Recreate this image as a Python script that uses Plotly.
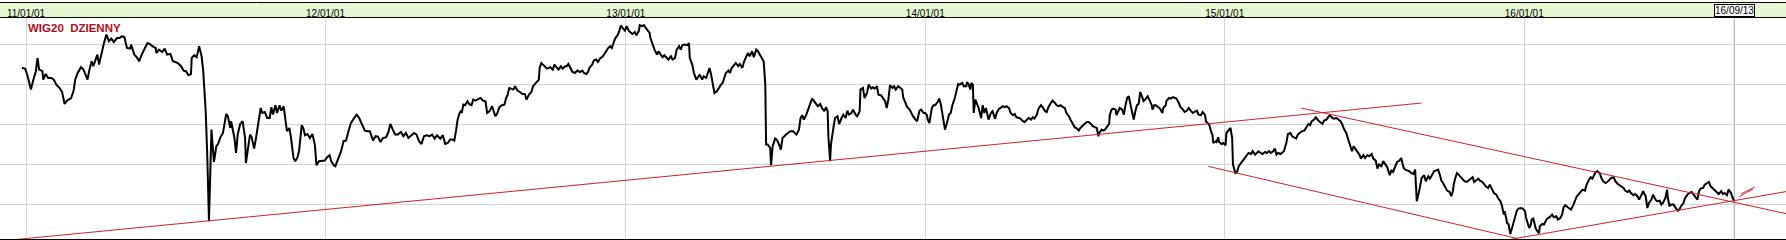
import pandas as pd
import plotly.graph_objects as go

# ---------------- data ----------------
base_date = "2011-01-01"  # day_offsets are calendar days since this date

day_offsets = [
    -5, -1, 2, 6, 9, 12, 14, 16, 20, 21, 24, 27, 31, 34, 37, 41, 44, 47, 50, 55, 58, 60, 63, 67, 70, 73, 75, 77, 80, 82,
    85, 87, 89, 92, 95, 98, 101, 104, 107, 111, 114, 117, 120, 123, 127, 128, 132, 135, 138, 141, 145, 148, 151, 154,
    158, 159, 162, 166, 169, 172, 176, 179, 182, 185, 189, 192, 195, 198, 201, 202, 205, 208, 211, 214, 216, 219, 221,
    223, 226, 229, 232, 234, 237, 240, 244, 246, 249, 250, 254, 256, 258, 261, 264, 267, 268, 271, 273, 275, 278, 280,
    283, 286, 288, 291, 294, 297, 299, 301, 304, 306, 309, 311, 314, 316, 318, 321, 323, 326, 328, 331, 333, 336, 338,
    340, 343, 346, 349, 352, 354, 357, 361, 364, 367, 370, 372, 375, 377, 380, 384, 387, 390, 393, 396, 400, 403, 406,
    410, 413, 416, 419, 423, 426, 429, 432, 435, 439, 442, 444, 447, 450, 453, 457, 460, 463, 466, 470, 473, 476, 479,
    482, 485, 488, 492, 495, 498, 501, 505, 508, 511, 514, 517, 520, 522, 524,
    526, 528, 530, 531, 533, 535, 538, 540, 543, 545, 548, 552, 554, 557, 560, 562, 565, 568, 570, 572, 574, 577, 580,
    583, 585, 587, 589, 592, 594, 596, 599, 602, 605, 608, 610, 613, 616, 618, 621, 623, 625, 626, 628, 630, 633, 635,
    639, 642, 644, 647, 649, 652, 654, 657, 659, 661, 664, 666, 669, 672, 675, 678, 680, 683, 685, 687, 690, 692, 695,
    697, 700, 702, 704, 707, 709, 712, 714, 716, 718, 721, 723, 725, 727, 730, 732, 735, 737, 739, 742, 744, 747, 748,
    751, 753, 756, 758, 760, 761, 764, 766, 769, 771, 774, 776, 778, 781, 783, 786, 788, 791, 793, 796, 798, 800, 803,
    806, 808, 809, 812, 814, 817, 819, 821, 824, 826, 829, 831, 833, 835, 837, 839, 842, 844, 847, 849, 851, 853, 856,
    858, 860, 863, 865, 868, 870, 873, 875, 878, 880, 882, 885, 887, 890, 892, 895, 897, 899, 901, 902, 904, 906, 907,
    908, 910, 913, 915, 917, 920, 922, 925, 927, 930, 932, 935, 937, 939, 942, 944, 946, 948, 951, 953, 956, 958, 960,
    963, 965, 968, 970, 973, 975, 977, 978, 980, 981, 984, 986, 989, 991, 994, 996, 999, 1001, 1003, 1006, 1008, 1011,
    1013, 1016, 1017, 1020, 1022, 1025, 1027, 1030, 1032, 1034, 1037, 1039, 1042, 1044, 1047, 1049, 1051, 1053, 1056,
    1058, 1060, 1063, 1065, 1068, 1069, 1072, 1074, 1077, 1079, 1081, 1084, 1086, 1089, 1091, 1094, 1096, 1098, 1099,
    1101, 1103, 1104, 1106, 1108, 1111, 1113, 1115, 1117, 1119, 1120, 1122, 1125, 1127, 1129, 1132, 1134, 1136, 1138,
    1141, 1143, 1146, 1147, 1149, 1151, 1152, 1154, 1155, 1157, 1159, 1161, 1163, 1164, 1166, 1168, 1170, 1172, 1173,
    1176, 1178, 1181, 1183, 1186, 1188, 1190, 1193, 1195, 1198, 1200, 1203, 1205, 1207, 1210, 1212, 1215, 1217, 1220,
    1222, 1225, 1227, 1229, 1232, 1234, 1237, 1239, 1242, 1244, 1246, 1249, 1251, 1254, 1256, 1259, 1261, 1264, 1266,
    1268, 1271, 1273, 1276, 1278, 1281, 1283, 1285, 1288, 1290, 1293, 1295, 1298, 1300, 1303, 1305, 1307, 1308, 1311,
    1313, 1315, 1318, 1320, 1321, 1323, 1325, 1328, 1329, 1331, 1333, 1336, 1338, 1340, 1342, 1344, 1346, 1348, 1350,
    1352, 1354, 1356, 1358, 1360, 1362, 1364, 1367, 1369, 1372, 1373, 1375, 1377, 1380, 1382, 1385, 1386, 1389, 1390,
    1393, 1395, 1398, 1400, 1402, 1405, 1407, 1410, 1412, 1415, 1417, 1420, 1422, 1424, 1427, 1429, 1432, 1434, 1437,
    1438, 1441, 1442, 1444, 1446, 1447, 1450, 1451, 1453, 1454, 1457, 1459, 1462, 1463, 1466, 1468, 1470, 1471, 1474,
    1476, 1478, 1480, 1483, 1485, 1488, 1490, 1493, 1495, 1498, 1500, 1502, 1505, 1507, 1510, 1512, 1515, 1517, 1520,
    1522, 1524, 1526, 1529, 1531, 1533, 1536, 1538, 1541, 1543, 1545, 1548, 1550, 1553, 1555, 1558, 1560, 1563, 1565,
    1567, 1570, 1572, 1575, 1577, 1580, 1582, 1585, 1587, 1589, 1592, 1594, 1597, 1599, 1602, 1604, 1606, 1609, 1611,
    1614, 1616, 1618, 1620, 1623, 1625, 1627, 1630, 1632, 1635, 1637, 1640, 1642, 1645, 1647, 1649, 1652, 1654, 1657,
    1659, 1662, 1664, 1666, 1669, 1671, 1674, 1676, 1679, 1681, 1684, 1686, 1688, 1691, 1693, 1695, 1697, 1699, 1701,
    1704, 1706, 1709, 1711, 1714, 1716, 1718, 1721, 1723, 1725, 1727, 1730, 1732, 1735, 1737, 1739, 1740, 1742, 1744,
    1746, 1749, 1751, 1753, 1756, 1758, 1761, 1763, 1765, 1767, 1770, 1772, 1775, 1777, 1779, 1782, 1784, 1787, 1789,
    1792, 1794, 1797, 1799, 1801, 1802, 1804, 1805, 1807, 1809, 1810, 1812, 1814, 1815, 1817, 1819, 1822, 1824, 1827,
    1828, 1830, 1832, 1834, 1835, 1837, 1839, 1840, 1842, 1844, 1845, 1848, 1850, 1853, 1855, 1857, 1860, 1862, 1865,
    1867, 1870, 1872, 1874, 1876, 1879, 1881, 1883, 1886, 1888, 1890, 1892, 1895, 1897, 1900, 1902, 1905, 1907, 1909,
    1911, 1913, 1915, 1918, 1920, 1922, 1925, 1927, 1930, 1932, 1935, 1937, 1940, 1942, 1944, 1947, 1949, 1952, 1954,
    1956, 1959, 1961, 1964, 1966, 1969, 1971, 1974, 1976, 1978, 1981, 1983, 1986, 1988, 1991, 1993, 1995, 1998, 2000,
    2001, 2003, 2005, 2008, 2010, 2013, 2015, 2017, 2020, 2022, 2025, 2027, 2030, 2032, 2034, 2037, 2039, 2041, 2044,
    2046, 2049, 2051, 2053, 2056, 2058, 2061, 2063, 2066, 2068, 2070, 2073, 2075, 2078, 2080, 2082,
]

close_values = [
    2680, 2677, 2639, 2572, 2622, 2664, 2730, 2672, 2664, 2622, 2650, 2630, 2630, 2620, 2597, 2580, 2560, 2500, 2517,
    2530, 2567, 2622, 2655, 2684, 2672, 2639, 2622, 2667, 2714, 2689, 2730, 2747, 2697, 2755, 2805, 2847, 2814, 2827,
    2810, 2830, 2830, 2839, 2834, 2780, 2777, 2797, 2747, 2734, 2714, 2747, 2780, 2805, 2800, 2789, 2780, 2755, 2772,
    2760, 2777, 2747, 2750, 2714, 2710, 2705, 2689, 2667, 2664, 2644, 2650, 2730, 2744, 2734, 2789, 2739, 2664, 2464,
    2230, 1914, 2372, 2210, 2289, 2300, 2334, 2355, 2450, 2439, 2380, 2414, 2330, 2255, 2347, 2400, 2414, 2330, 2205,
    2280, 2347, 2334, 2277, 2322, 2414, 2480, 2455, 2460, 2430, 2430, 2484, 2447, 2494, 2455, 2494, 2467, 2489, 2410,
    2364, 2380, 2330, 2230, 2214, 2234, 2272, 2394, 2380, 2344, 2350, 2330, 2350, 2297, 2194, 2214, 2217, 2217, 2234,
    2244, 2214, 2194, 2189, 2222, 2264, 2314, 2317, 2364, 2405, 2430, 2447, 2430, 2389, 2367, 2364, 2364, 2317, 2339,
    2337, 2310, 2330, 2334, 2364, 2400, 2372, 2347, 2347, 2360, 2339, 2355, 2330, 2344, 2355, 2347, 2314, 2300, 2339,
    2344, 2339, 2347, 2327, 2344, 2327, 2344, 2300, 2305, 2322, 2322, 2317, 2364,
    2422, 2450, 2467, 2455, 2497, 2494, 2514, 2500, 2494, 2522, 2517, 2527, 2530, 2517, 2514, 2455, 2464, 2489, 2464,
    2439, 2450, 2484, 2494, 2497, 2527, 2547, 2580, 2577, 2572, 2589, 2567, 2560, 2550, 2550, 2522, 2547, 2560, 2589,
    2605, 2617, 2622, 2680, 2705, 2697, 2684, 2677, 2684, 2672, 2697, 2680, 2672, 2689, 2677, 2689, 2689, 2700, 2672,
    2660, 2655, 2667, 2660, 2667, 2655, 2650, 2660, 2684, 2697, 2717, 2722, 2710, 2730, 2734, 2744, 2764, 2777, 2789,
    2780, 2805, 2827, 2844, 2864, 2894, 2880, 2867, 2889, 2864, 2855, 2850, 2860, 2844, 2867, 2894, 2889, 2894, 2877,
    2867, 2855, 2830, 2789, 2772, 2747, 2764, 2744, 2734, 2744, 2730, 2722, 2739, 2722, 2730, 2772, 2789, 2772, 2794,
    2797, 2794, 2805, 2730, 2697, 2655, 2622, 2634, 2647, 2622, 2639, 2630, 2655, 2680, 2647, 2589, 2555, 2564, 2580,
    2597, 2605, 2630, 2655, 2667, 2655, 2680, 2697, 2705, 2689, 2700, 2680, 2710, 2739, 2755, 2739, 2764, 2734, 2772,
    2764, 2744, 2727, 2714, 2597, 2297, 2297, 2289, 2280, 2194, 2289, 2327, 2322, 2305, 2272, 2330, 2344, 2350, 2360,
    2364, 2364, 2355, 2347, 2372, 2430, 2444, 2422, 2447, 2472, 2505, 2527, 2517, 2500, 2489, 2500, 2480, 2464, 2484,
    2464, 2330, 2214, 2297, 2380, 2430, 2439, 2400, 2430, 2447, 2430, 2467, 2447, 2455, 2472, 2447, 2439, 2464, 2572,
    2580, 2530, 2555, 2597, 2577, 2584, 2577, 2589, 2547, 2544, 2534, 2514, 2480, 2522, 2594, 2580, 2589, 2572, 2589,
    2580, 2572, 2534, 2500, 2484, 2472, 2455, 2439, 2422, 2414, 2467, 2472, 2455, 2455, 2444, 2422, 2405, 2447, 2480,
    2494, 2494, 2510, 2527, 2497, 2447, 2414, 2372, 2400, 2447, 2455, 2494, 2530, 2572, 2600, 2597, 2605, 2589, 2589,
    2610, 2597, 2572, 2605, 2597, 2455, 2522, 2500, 2480, 2447, 2430, 2494, 2455, 2480, 2447, 2422, 2455, 2464, 2427,
    2455, 2477, 2480, 2489, 2484, 2489, 2480, 2455, 2444, 2450, 2434, 2430, 2427, 2414, 2410, 2422, 2430, 2422, 2434,
    2427, 2447, 2477, 2494, 2484, 2464, 2460, 2484, 2505, 2517, 2505, 2494, 2489, 2494, 2484, 2480, 2455, 2439, 2422,
    2400, 2384, 2377, 2367, 2380, 2394, 2400, 2410, 2410, 2400, 2389, 2384, 2380, 2339, 2355, 2372, 2367, 2372, 2389,
    2400, 2447, 2472, 2477, 2472, 2444, 2464, 2480, 2472, 2447, 2494, 2530, 2539, 2497, 2455, 2422, 2464, 2494, 2500,
    2560, 2539, 2514, 2522, 2539, 2522, 2494, 2472, 2494, 2494, 2484, 2477, 2455, 2480, 2494, 2517, 2530, 2527, 2534,
    2530, 2527, 2505, 2484, 2472, 2460, 2467, 2480, 2464, 2455, 2460, 2467, 2447, 2444, 2460, 2444, 2414, 2400, 2397,
    2367, 2344, 2305, 2314, 2310, 2334, 2310, 2300, 2305, 2294, 2355, 2372, 2380, 2330, 2197, 2155, 2160, 2189, 2200,
    2214, 2230, 2244, 2255, 2250, 2264, 2247, 2255, 2264, 2255, 2250, 2260, 2255, 2264, 2255, 2264, 2277, 2247, 2255,
    2250, 2255, 2264, 2305, 2350, 2355, 2339, 2334, 2327, 2347, 2355, 2364, 2367, 2380, 2400, 2394, 2414, 2422, 2434,
    2417, 2410, 2400, 2417, 2422, 2434, 2444, 2430, 2427, 2430, 2422, 2414, 2400, 2377, 2355, 2330, 2297, 2264,
    2289, 2277, 2264, 2247, 2227, 2244, 2230, 2244, 2239, 2250, 2227, 2217, 2177, 2197, 2189, 2214, 2197, 2184, 2144,
    2167, 2160, 2189, 2210, 2217, 2230, 2180, 2172, 2167, 2164, 2155, 2150, 2172, 2014, 2047, 2097, 2130, 2144, 2114,
    2139, 2127, 2147, 2164, 2167, 2172, 2147, 2117, 2105, 2077, 2067, 2060, 2039, 2064, 2097, 2130, 2155, 2147, 2134,
    2127, 2114, 2110, 2117, 2130, 2134, 2110, 2117, 2127, 2117, 2110, 2100, 2089, 2080, 2097, 2072, 2055, 2047, 2030,
    2014, 1989, 1947, 1964, 1930, 1905, 1897, 1850, 1864, 1897, 1922, 1947, 1967, 1977, 1980, 1977, 1964, 1934, 1905,
    1880, 1897, 1922, 1927, 1897, 1877, 1864, 1855, 1889, 1900, 1897, 1922, 1930, 1934, 1947, 1934, 1939, 1922, 1930,
    1947, 1984, 1994, 1984, 1977, 1972, 1997, 2022, 2039, 2047, 2060, 2072, 2067, 2097, 2122, 2134, 2127, 2147, 2160,
    2164, 2155, 2130, 2114, 2105, 2110, 2122, 2130, 2134, 2114, 2100, 2094, 2089, 2080, 2067, 2060, 2067, 2055, 2044,
    2050, 2039, 2022, 2047, 2064, 2039, 1980, 2005, 2022, 2047, 2022, 2014, 2017, 1997, 2005, 2030, 2072, 2030, 1989,
    1997, 1997, 1984, 1967, 1972, 1989, 2005, 2030, 2047, 2055, 2060, 2050, 2039, 2022, 2064, 2077, 2080, 2097, 2105,
    2110, 2089, 2077, 2067, 2060, 2050, 2064, 2050, 2055, 2044, 2072, 2055, 2030, 2014,
]

# hand-drawn trend lines: (start day, end day), (start value, end value)
trend_lines = [
    ([-13, 1701], [1822, 2505]),   # long rising support
    ([1554, 2145], [2480, 1952]),  # falling resistance
    ([1441, 1818], [2188, 1827]),  # falling lower channel
    ([1809, 2145], [1823, 2062]),  # rising support from the low
]
arrow_marks = [
    ([2088, 2105], [2036, 2076]),
    ([2090, 2107], [2050, 2085]),
]

year_ticks = ["2011-01-01", "2012-01-01", "2013-01-01", "2014-01-01", "2015-01-01", "2016-01-01"]
year_labels = ["11/01/01", "12/01/01", "13/01/01", "14/01/01", "15/01/01", "16/01/01"]
last_date = "2016-09-13"
last_label = "16/09/13"
title_text = "WIG20\u00a0 DZIENNY"

# ---------------- figure ----------------
base = pd.Timestamp(base_date)


def to_dates(days):
    return [base + pd.Timedelta(days=float(d)) for d in days]


fig = go.Figure()
fig.add_trace(go.Scatter(
    x=to_dates(day_offsets), y=close_values, mode="lines",
    line=dict(color="#000000", width=2), hoverinfo="skip", showlegend=False,
))
RED = "#d0202c"
for days, vals in trend_lines + arrow_marks:
    fig.add_trace(go.Scatter(
        x=to_dates(days), y=vals, mode="lines",
        line=dict(color=RED, width=1), hoverinfo="skip", showlegend=False,
    ))

PLOT_TOP = 18
PLOT_BOTTOM = 239
PLOT_H = PLOT_BOTTOM - PLOT_TOP


def py(px):  # pixel row -> paper y
    return (PLOT_BOTTOM - px) / PLOT_H


x_range = [base + pd.Timedelta(days=-31.7), base + pd.Timedelta(days=2145.0)]

fig.update_layout(
    width=1786, height=240,
    margin=dict(l=0, r=0, t=PLOT_TOP, b=240 - PLOT_BOTTOM),
    paper_bgcolor="white", plot_bgcolor="white",
    showlegend=False,
    xaxis=dict(
        type="date", range=x_range, side="top",
        tickmode="array", tickvals=year_ticks, ticktext=year_labels,
        ticks="", ticklabelstandoff=-4,
        showgrid=True, gridcolor="#d4d4d4", gridwidth=1,
        showline=True, linecolor="#000000", linewidth=1, mirror=True,
        zeroline=False,
        tickfont=dict(family="Arial, Liberation Sans, sans-serif", size=10, color="#000000"),
    ),
    yaxis=dict(
        range=[1825, 2930], tickmode="linear", tick0=2000, dtick=200,
        showticklabels=False, showgrid=True, gridcolor="#d4d4d4", gridwidth=1,
        zeroline=False, showline=False, ticks="",
    ),
    shapes=[
        dict(type="rect", xref="paper", yref="paper", x0=0, x1=1, y0=1, y1=py(2.5),
             fillcolor="#e5f8d2", line=dict(width=0), layer="below"),
        dict(type="line", xref="paper", yref="paper", x0=0, x1=1, y0=py(2.5), y1=py(2.5),
             line=dict(color="#000000", width=1)),
        dict(type="line", xref="x", yref="paper", x0=last_date, x1=last_date, y0=0, y1=1,
             line=dict(color="#a0a0a0", width=1), layer="below"),
    ],
    annotations=[
        dict(text="<b>" + title_text + "</b>", xref="paper", yref="paper",
             x=26 / 1786, y=py(20), xanchor="left", yanchor="top", showarrow=False,
             font=dict(family="Arial, Liberation Sans, sans-serif", size=11.5, color="#b40c1c")),
        dict(text=last_label, xref="x", yref="paper", x=last_date, y=py(10.7),
             xanchor="center", yanchor="middle", showarrow=False,
             bgcolor="white", bordercolor="#000000", borderwidth=1, borderpad=0,
             font=dict(family="Arial, Liberation Sans, sans-serif", size=10, color="#000000")),
    ],
)

fig.write_html("out.html")
